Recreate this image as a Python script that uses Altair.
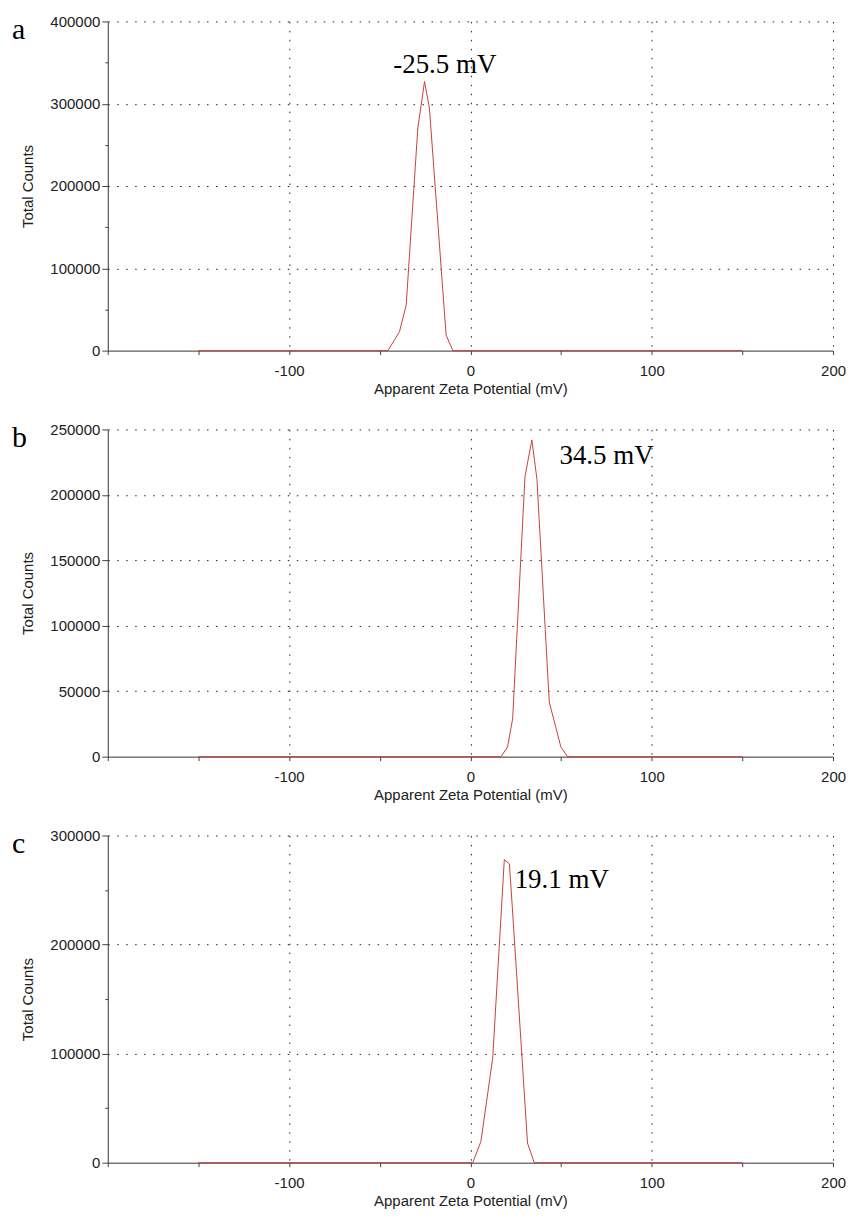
import altair as alt
import pandas as pd

# ---- data ----
a_x = [-150, -45.5, -39.1, -35.4, -29.0, -25.3, -22.6, -13.4, -9.7, 150]
a_y = [0, 0, 23100, 55500, 270300, 327000, 294600, 19000, 0, 0]

b_x = [-150, 16.9, 20.5, 23.3, 30.1, 33.9, 36.7, 43.5, 49.9, 53.6, 150]
b_y = [0, 0, 7400, 29000, 214000, 242000, 212000, 41700, 7400, 0, 0]

c_x = [-150, 1.3, 5.8, 12.3, 18.7, 21.5, 23.1, 31.5, 35.2, 150]
c_y = [0, 0, 19500, 95800, 277700, 274000, 234700, 18000, 0, 0]

x_ticks = [-200, -150, -100, -50, 0, 50, 100, 150, 200]
x_labeled = [-100, 0, 100, 200]

a_yticks = [0, 50000, 100000, 150000, 200000, 250000, 300000, 350000, 400000]
a_ymajor = [0, 100000, 200000, 300000, 400000]
b_yticks = [0, 25000, 50000, 75000, 100000, 125000, 150000, 175000, 200000, 225000, 250000]
b_ymajor = [0, 50000, 100000, 150000, 200000, 250000]
c_yticks = [0, 50000, 100000, 150000, 200000, 250000, 300000]
c_ymajor = [0, 100000, 200000, 300000]

letters = ["a", "b", "c"]
annotations = ["-25.5 mV", "34.5 mV", "19.1 mV"]
ann_x = [-14.1, 49.1, 24.4]
ann_y = [336800, 223300, 251500]
ann_align = ["center", "left", "left"]

X_TITLE = "Apparent Zeta Potential (mV)"
Y_TITLE = "Total Counts"

W = 727
SANS = "Liberation Sans"
SERIF = "Liberation Serif"


def in_list(vals):
    return "indexof([" + ",".join(str(v) for v in vals) + "], datum.value) >= 0"


def panel(xs, ys, yticks, ymajor, i, height):
    df = pd.DataFrame({"x": xs, "y": ys})
    ymax = yticks[-1]
    xenc = alt.X(
        "x:Q",
        scale=alt.Scale(domain=[-200, 200], nice=False, zero=False),
        axis=alt.Axis(
            values=x_ticks,
            title=X_TITLE,
            labelExpr="(" + in_list(x_labeled) + ") ? ('' + datum.value) : ''",
            gridOpacity={"condition": {"test": in_list(x_labeled), "value": 1}, "value": 0},
            tickSize=4,
        ),
    )
    yenc = alt.Y(
        "y:Q",
        scale=alt.Scale(domain=[0, ymax], nice=False),
        axis=alt.Axis(
            values=yticks,
            title=Y_TITLE,
            labelExpr="(" + in_list(ymajor) + ") ? ('' + datum.value) : ''",
            gridOpacity={"condition": {"test": "datum.value > 0 && " + in_list(ymajor), "value": 1}, "value": 0},
            tickSize={"condition": {"test": in_list(ymajor), "value": 6}, "value": 3},
        ),
    )
    line = alt.Chart(df).mark_line(color="#c8413c", strokeWidth=1).encode(x=xenc, y=yenc)

    ann_df = pd.DataFrame({"x": [ann_x[i]], "y": [ann_y[i]], "t": [annotations[i]]})
    ann = alt.Chart(ann_df).mark_text(
        font=SERIF, fontSize=27, align=ann_align[i], baseline="alphabetic", color="#000"
    ).encode(x="x:Q", y="y:Q", text="t:N")

    let_df = pd.DataFrame({"t": [letters[i]]})
    let = alt.Chart(let_df).mark_text(
        font=SERIF, fontSize=30, align="left", baseline="alphabetic", color="#000"
    ).encode(x=alt.value(-96), y=alt.value(18), text="t:N")

    return alt.layer(line, ann, let).properties(width=W, height=height)


pa = panel(a_x, a_y, a_yticks, a_ymajor, 0, 330)
pb = panel(b_x, b_y, b_yticks, b_ymajor, 1, 328)
pc = panel(c_x, c_y, c_yticks, c_ymajor, 2, 328)

chart = (
    alt.vconcat(pa, pb, pc, spacing=79, bounds="flush")
    .properties(padding={"left": 4, "top": 5, "right": 0, "bottom": 0})
    .configure_view(stroke=None)
    .configure_axis(
        labelFont=SANS,
        labelFontSize=15,
        labelColor="#222",
        titleFont=SANS,
        titleFontSize=15,
        titleFontWeight="normal",
        titleColor="#222",
        domainColor="#333",
        tickColor="#444",
        gridColor="#222",
        gridDash=[1.5, 7.5],
        gridWidth=1,
        labelPadding=2,
    )
    .configure_axisX(labelPadding=9, titlePadding=3, labelFlush=False, labelOverlap=False)
    .configure_axisY(titlePadding=14, labelOverlap=False)
)

chart.save("out.html", embed_options={"renderer": "svg", "actions": False})
